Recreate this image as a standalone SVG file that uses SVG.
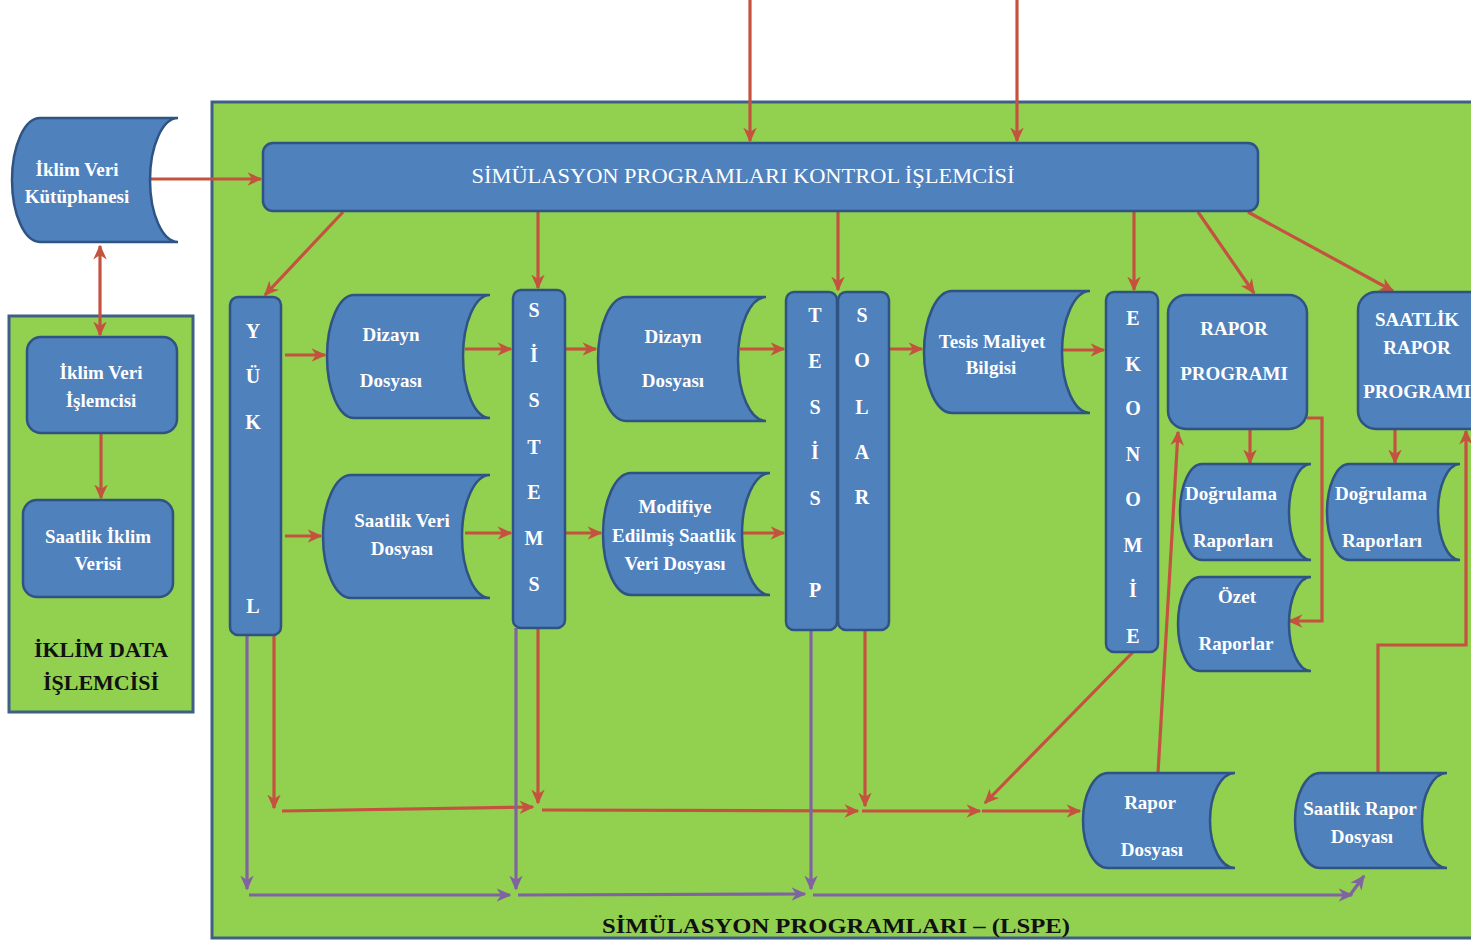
<svg xmlns="http://www.w3.org/2000/svg" width="1471" height="942" viewBox="0 0 1471 942">
  <style>
    .frame { fill: #92d050; stroke: #3f5f86; stroke-width: 3; }
    .node { fill: #4f81bd; stroke: #2f5382; stroke-width: 2.5; }
    .lbl { font-family: "Liberation Serif", "Times New Roman", serif; font-weight: bold; font-size: 19px; fill: #ffffff; text-anchor: middle; }
    .col { font-family: "Liberation Serif", "Times New Roman", serif; font-weight: bold; font-size: 20px; fill: #ffffff; text-anchor: middle; }
    .title { font-family: "Liberation Serif", "Times New Roman", serif; font-weight: bold; font-size: 22px; fill: #111111; text-anchor: middle; }
    .red { fill: none; stroke: #c4523f; stroke-width: 3.2; marker-end: url(#ahRed); }
    .purple { fill: none; stroke: #8064a2; stroke-width: 3.2; marker-end: url(#ahPurple); }
  </style>
  <defs>
    <marker id="ahRed" viewBox="0 0 10 10" refX="9" refY="5" markerWidth="15" markerHeight="15" markerUnits="userSpaceOnUse" orient="auto-start-reverse">
      <path d="M0,0.5 L10,5 L0,9.5 L3,5 Z" fill="#c4523f"/>
    </marker>
    <marker id="ahPurple" viewBox="0 0 10 10" refX="9" refY="5" markerWidth="15" markerHeight="15" markerUnits="userSpaceOnUse" orient="auto">
      <path d="M0,0.5 L10,5 L0,9.5 L3,5 Z" fill="#8064a2"/>
    </marker>
  </defs>

  <rect x="0" y="0" width="1471" height="942" fill="#ffffff"/>

  <!-- containers -->
  <g id="lspe-frame">
    <rect class="frame" x="212" y="102" width="1275" height="836"/>
    <text class="title" x="836" y="933" textLength="468" lengthAdjust="spacingAndGlyphs">SİMÜLASYON  PROGRAMLARI  –  (LSPE)</text>
  </g>
  <g id="iklim-frame">
    <rect class="frame" x="9" y="316" width="184" height="396"/>
    <text class="title" x="101" y="657">İKLİM DATA</text>
    <text class="title" x="101" y="690">İŞLEMCİSİ</text>
  </g>

  <!-- connectors -->
  <g id="connectors">
    <line class="red" x1="750" y1="0" x2="750" y2="141"/>
    <line class="red" x1="1017" y1="0" x2="1017" y2="141"/>
    <line class="red" x1="143" y1="179" x2="261" y2="179"/>
    <line class="red" x1="100" y1="246" x2="100" y2="335" style="marker-start:url(#ahRed)"/>
    <line class="red" x1="101" y1="433" x2="101" y2="498"/>

    <line class="red" x1="343" y1="212" x2="265" y2="295"/>
    <line class="red" x1="538" y1="212" x2="538" y2="288"/>
    <line class="red" x1="838" y1="212" x2="838" y2="290"/>
    <line class="red" x1="1134" y1="212" x2="1134" y2="290"/>
    <line class="red" x1="1198" y1="212" x2="1254" y2="293"/>
    <line class="red" x1="1248" y1="212" x2="1393" y2="291"/>

    <line class="red" x1="285" y1="355" x2="325" y2="355"/>
    <line class="red" x1="285" y1="536" x2="321" y2="536"/>
    <line class="red" x1="465" y1="349" x2="511" y2="349"/>
    <line class="red" x1="465" y1="533" x2="511" y2="533"/>
    <line class="red" x1="565" y1="349" x2="596" y2="349"/>
    <line class="red" x1="565" y1="533" x2="601" y2="533"/>
    <line class="red" x1="740" y1="349" x2="784" y2="349"/>
    <line class="red" x1="743" y1="533" x2="784" y2="533"/>
    <line class="red" x1="889" y1="349" x2="922" y2="349"/>
    <line class="red" x1="1062" y1="350" x2="1104" y2="350"/>

    <line class="red" x1="1250" y1="430" x2="1250" y2="463"/>
    <line class="red" x1="1395" y1="430" x2="1395" y2="463"/>
    <polyline class="red" points="1307,418 1322,418 1322,621 1289,621"/>
    <line class="red" x1="1158" y1="773" x2="1178" y2="432"/>
    <polyline class="red" points="1378,773 1378,645 1466,645 1466,431"/>

    <line class="red" x1="274" y1="635" x2="274" y2="808"/>
    <line class="red" x1="282" y1="811" x2="533" y2="807"/>
    <line class="red" x1="538" y1="628" x2="538" y2="803"/>
    <line class="red" x1="542" y1="810" x2="858" y2="811"/>
    <line class="red" x1="865" y1="630" x2="865" y2="806"/>
    <line class="red" x1="862" y1="811" x2="980" y2="811"/>
    <line class="red" x1="982" y1="811" x2="1080" y2="811"/>
    <line class="red" x1="1133" y1="652" x2="985" y2="803"/>

    <line class="purple" x1="247" y1="635" x2="247" y2="889"/>
    <line class="purple" x1="249" y1="895" x2="510" y2="895"/>
    <line class="purple" x1="516" y1="628" x2="516" y2="889"/>
    <line class="purple" x1="518" y1="895" x2="805" y2="894"/>
    <line class="purple" x1="811" y1="630" x2="811" y2="889"/>
    <line class="purple" x1="813" y1="895" x2="1352" y2="895"/>
    <line class="purple" x1="1350" y1="895" x2="1364" y2="876"/>
  </g>

  <!-- nodes -->
  <g id="kontrol">
    <rect class="node" x="263" y="143" width="995" height="68" rx="10"/>
    <text x="743" y="183" font-family="Liberation Serif, serif" font-size="20" fill="#ffffff" text-anchor="middle" textLength="543" lengthAdjust="spacingAndGlyphs">SİMÜLASYON PROGRAMLARI KONTROL İŞLEMCİSİ</text>
  </g>

  <g id="iklim-veri-kutuphanesi">
    <path class="node" d="M40,118 H178 A28,62 0 0 0 178,242 H40 A28,62 0 0 1 40,118 Z"/>
    <text class="lbl" x="77" y="176">İklim Veri</text>
    <text class="lbl" x="77" y="203">Kütüphanesi</text>
  </g>

  <g id="iklim-veri-islemcisi">
    <rect class="node" x="27" y="337" width="150" height="96" rx="14"/>
    <text class="lbl" x="101" y="379">İklim Veri</text>
    <text class="lbl" x="101" y="407">İşlemcisi</text>
  </g>

  <g id="saatlik-iklim-verisi">
    <rect class="node" x="23" y="500" width="150" height="97" rx="14"/>
    <text class="lbl" x="98" y="543">Saatlik İklim</text>
    <text class="lbl" x="98" y="570">Verisi</text>
  </g>

  <g id="yuk">
    <rect class="node" x="230" y="297" width="51" height="338" rx="8"/>
    <text class="col"><tspan x="253" y="338">Y</tspan><tspan x="253" y="383">Ü</tspan><tspan x="253" y="429">K</tspan><tspan x="253" y="613">L</tspan></text>
  </g>

  <g id="dizayn-dosyasi-1">
    <path class="node" d="M354,295 H490 A27,61.5 0 0 0 490,418 H354 A27,61.5 0 0 1 354,295 Z"/>
    <text class="lbl" x="391" y="341">Dizayn</text>
    <text class="lbl" x="391" y="387">Dosyası</text>
  </g>

  <g id="saatlik-veri-dosyasi">
    <path class="node" d="M351,475 H490 A28,61.5 0 0 0 490,598 H351 A28,61.5 0 0 1 351,475 Z"/>
    <text class="lbl" x="402" y="527">Saatlik Veri</text>
    <text class="lbl" x="402" y="555">Dosyası</text>
  </g>

  <g id="sistems">
    <rect class="node" x="513" y="290" width="52" height="338" rx="8"/>
    <text class="col"><tspan x="534" y="317">S</tspan><tspan x="534" y="362">İ</tspan><tspan x="534" y="407">S</tspan><tspan x="534" y="454">T</tspan><tspan x="534" y="499">E</tspan><tspan x="534" y="545">M</tspan><tspan x="534" y="591">S</tspan></text>
  </g>

  <g id="dizayn-dosyasi-2">
    <path class="node" d="M626,297 H766 A28,62 0 0 0 766,421 H626 A28,62 0 0 1 626,297 Z"/>
    <text class="lbl" x="673" y="343">Dizayn</text>
    <text class="lbl" x="673" y="387">Dosyası</text>
  </g>

  <g id="modifiye-saatlik-veri">
    <path class="node" d="M631,473 H770 A28,61 0 0 0 770,595 H631 A28,61 0 0 1 631,473 Z"/>
    <text class="lbl" x="675" y="513">Modifiye</text>
    <text class="lbl" x="674" y="542">Edilmiş Saatlik</text>
    <text class="lbl" x="675" y="570">Veri Dosyası</text>
  </g>

  <g id="tesisp">
    <rect class="node" x="786" y="292" width="51" height="338" rx="8"/>
    <text class="col"><tspan x="815" y="322">T</tspan><tspan x="815" y="368">E</tspan><tspan x="815" y="414">S</tspan><tspan x="815" y="459">İ</tspan><tspan x="815" y="505">S</tspan><tspan x="815" y="597">P</tspan></text>
  </g>

  <g id="solar">
    <rect class="node" x="838" y="292" width="51" height="338" rx="8"/>
    <text class="col"><tspan x="862" y="322">S</tspan><tspan x="862" y="367">O</tspan><tspan x="862" y="414">L</tspan><tspan x="862" y="459">A</tspan><tspan x="862" y="504">R</tspan></text>
  </g>

  <g id="tesis-maliyet-bilgisi">
    <path class="node" d="M952,291 H1090 A28,61 0 0 0 1090,413 H952 A28,61 0 0 1 952,291 Z"/>
    <text class="lbl" x="992" y="348">Tesis Maliyet</text>
    <text class="lbl" x="991" y="374">Bilgisi</text>
  </g>

  <g id="ekonomi">
    <rect class="node" x="1106" y="292" width="52" height="360" rx="8"/>
    <text class="col"><tspan x="1133" y="325">E</tspan><tspan x="1133" y="371">K</tspan><tspan x="1133" y="415">O</tspan><tspan x="1133" y="461">N</tspan><tspan x="1133" y="506">O</tspan><tspan x="1133" y="552">M</tspan><tspan x="1133" y="597">İ</tspan><tspan x="1133" y="643">E</tspan></text>
  </g>

  <g id="rapor-programi">
    <rect class="node" x="1168" y="295" width="139" height="134" rx="18"/>
    <text class="lbl" x="1234" y="335">RAPOR</text>
    <text class="lbl" x="1234" y="380">PROGRAMI</text>
  </g>

  <g id="saatlik-rapor-programi">
    <rect class="node" x="1358" y="292" width="130" height="137" rx="18"/>
    <text class="lbl" x="1417" y="326">SAATLİK</text>
    <text class="lbl" x="1417" y="354">RAPOR</text>
    <text class="lbl" x="1417" y="398">PROGRAMI</text>
  </g>

  <g id="dogrulama-raporlari-1">
    <path class="node" d="M1202,464 H1311 A22,48 0 0 0 1311,560 H1202 A22,48 0 0 1 1202,464 Z"/>
    <text class="lbl" x="1231" y="500">Doğrulama</text>
    <text class="lbl" x="1233" y="547">Raporları</text>
  </g>

  <g id="ozet-raporlar">
    <path class="node" d="M1200,577 H1311 A22,47 0 0 0 1311,671 H1200 A22,47 0 0 1 1200,577 Z"/>
    <text class="lbl" x="1237" y="603">Özet</text>
    <text class="lbl" x="1236" y="650">Raporlar</text>
  </g>

  <g id="dogrulama-raporlari-2">
    <path class="node" d="M1349,464 H1460 A22,48 0 0 0 1460,560 H1349 A22,48 0 0 1 1349,464 Z"/>
    <text class="lbl" x="1381" y="500">Doğrulama</text>
    <text class="lbl" x="1382" y="547">Raporları</text>
  </g>

  <g id="rapor-dosyasi">
    <path class="node" d="M1108,773 H1235 A25,47.5 0 0 0 1235,868 H1108 A25,47.5 0 0 1 1108,773 Z"/>
    <text class="lbl" x="1150" y="809">Rapor</text>
    <text class="lbl" x="1152" y="856">Dosyası</text>
  </g>

  <g id="saatlik-rapor-dosyasi">
    <path class="node" d="M1320,773 H1447 A25,47.5 0 0 0 1447,868 H1320 A25,47.5 0 0 1 1320,773 Z"/>
    <text class="lbl" x="1360" y="815">Saatlik Rapor</text>
    <text class="lbl" x="1362" y="843">Dosyası</text>
  </g>
</svg>
